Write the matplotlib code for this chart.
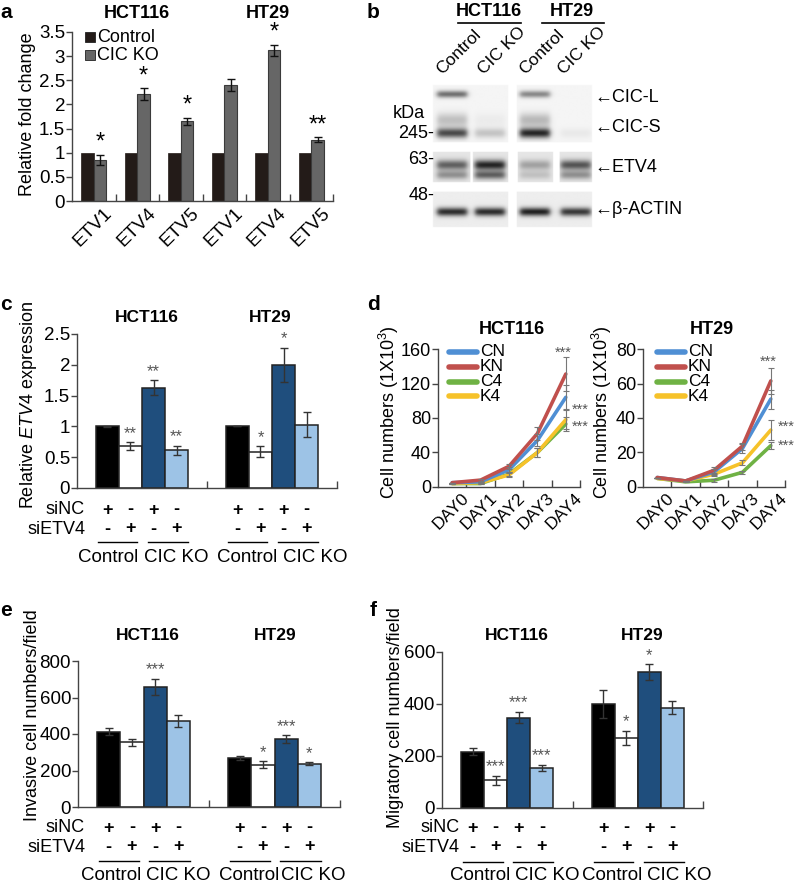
import numpy as np
import matplotlib
matplotlib.use('Agg')
import matplotlib.pyplot as plt
from matplotlib import transforms
from matplotlib.lines import Line2D
from matplotlib.patches import Rectangle

plt.rcParams['font.family'] = ['Liberation Sans', 'DejaVu Sans']
plt.rcParams['font.size'] = 13
plt.rcParams['mathtext.fontset'] = 'custom'
plt.rcParams['mathtext.rm'] = 'Liberation Sans'
plt.rcParams['mathtext.it'] = 'Liberation Sans:italic'

# ------------------------------------------------------------------ data
# panel a
a_genes = ['ETV1', 'ETV4', 'ETV5', 'ETV1', 'ETV4', 'ETV5']
a_cells = ['HCT116', 'HT29']
a_series = ['Control', 'CIC KO']
a_control = [1, 1, 1, 1, 1, 1]
a_ko = [0.85, 2.22, 1.65, 2.40, 3.12, 1.27]
a_ko_err = [0.11, 0.12, 0.07, 0.12, 0.12, 0.05]
a_stars = ['*', '*', '*', '', '*', '**']

# panel b (western blot band intensities per lane)
b_lanes = ['Control', 'CIC KO', 'Control', 'CIC KO']
b_cells = ['HCT116', 'HT29']
b_bands = ['CIC-L', 'CIC smear', 'CIC-S', 'ETV4', 'ETV4 low', 'β-ACTIN']
b_intensity = [[0.55, 0.00, 0.45, 0.00],
               [0.22, 0.04, 0.25, 0.00],
               [0.70, 0.20, 0.85, 0.05],
               [0.55, 0.80, 0.28, 0.60],
               [0.35, 0.55, 0.15, 0.35],
               [0.80, 0.80, 0.85, 0.75]]
b_markers = ['245', '63', '48']
b_labels = ['←CIC-L', '←CIC-S', '←ETV4', '←β-ACTIN']

# panel c
c_groups = ['HCT116', 'HT29']
c_vals = [[1.00, 0.68, 1.63, 0.61], [1.00, 0.59, 2.00, 1.03]]
c_errs = [[0.01, 0.065, 0.12, 0.075], [0.0, 0.085, 0.28, 0.21]]
c_stars = [['', '**', '**', '**'], ['', '*', '*', '']]

# panel d
d_days = ['DAY0', 'DAY1', 'DAY2', 'DAY3', 'DAY4']
d_series = ['CN', 'KN', 'C4', 'K4']
d_hct = {'CN': [5, 6, 20, 54, 104], 'KN': [5, 8, 24, 62, 131],
         'C4': [4, 4, 15, 40, 73], 'K4': [4, 5, 14, 40, 78]}
d_hct_err = {'CN': [0, 0, 3, 7, 14], 'KN': [0, 1, 3, 7, 20],
             'C4': [0, 0, 2, 5, 8], 'K4': [0, 0, 2, 5, 11]}
d_ht = {'CN': [5.5, 3.5, 8.7, 22.3, 51], 'KN': [5.5, 3.5, 9.7, 23.7, 61.5],
        'C4': [5, 3, 3.9, 8.5, 24], 'K4': [5, 3.5, 7.4, 14, 33]}
d_ht_err = {'CN': [0, 0, 2, 2.5, 5.5], 'KN': [0, 0, 2, 2, 7.5],
            'C4': [0, 0, 1, 1, 2], 'K4': [0, 0, 1, 1.5, 6]}

# panel e
e_vals = [[412, 355, 658, 470], [270, 232, 372, 238]]
e_errs = [[20, 20, 45, 32], [10, 18, 20, 8]]
e_stars = [['', '', '***', ''], ['', '*', '***', '*']]

# panel f
f_vals = [[217, 107, 348, 155], [400, 270, 522, 385]]
f_errs = [[13, 18, 22, 12], [52, 28, 30, 25]]
f_stars = [['', '***', '***', '***'], ['', '*', '*', '']]

si_nc = ['+', '-', '+', '-']
si_etv4 = ['-', '+', '-', '+']
group_labels = ['Control', 'CIC KO', 'Control', 'CIC KO']

# ------------------------------------------------------------------ styles
W, H = 797, 885
SP = '#444444'
FT = 13.5      # tick label size
FL = 13        # axis label size
FB = 12.5      # bold title size
bar_colors = ['#000000', '#ffffff', '#1f4e7d', '#9dc3e6']
line_colors = {'CN': '#4f8fd4', 'KN': '#c0504d', 'C4': '#6fb244', 'K4': '#f6c22a'}

fig = plt.figure(figsize=(W / 100, H / 100), dpi=100)


def px_axes(l, t, r, b):
    return fig.add_axes([l / W, 1 - b / H, (r - l) / W, (b - t) / H])


def ftext(x, y, s, **kw):
    kw.setdefault('ha', 'center')
    kw.setdefault('va', 'center')
    return fig.text(x / W, 1 - y / H, s, **kw)


def fline(x0, x1, y, **kw):
    fig.add_artist(Line2D([x0 / W, x1 / W], [1 - y / H, 1 - y / H],
                          transform=fig.transFigure, **kw))


def style_axes(ax, ylim, yticks, ylabels, bounds, fs=FT):
    ax.set_ylim(*ylim)
    ax.set_yticks(yticks)
    ax.set_yticklabels(ylabels)
    for s in ['top', 'right']:
        ax.spines[s].set_visible(False)
    for s in ['left', 'bottom']:
        ax.spines[s].set_color(SP)
        ax.spines[s].set_linewidth(1)
    ax.tick_params(axis='y', direction='out', length=4, width=1, color=SP,
                   labelsize=fs, pad=1)
    ax.set_xticks(bounds, minor=True)
    ax.tick_params(axis='x', which='major', length=0)
    ax.tick_params(axis='x', which='minor', direction='in', length=5,
                   width=1, color=SP)
    ax.patch.set_alpha(0)


def rot_labels(ax, labels, dx, dy, fs):
    off = transforms.ScaledTranslation(dx / 100, dy / 100, fig.dpi_scale_trans)
    tr = transforms.blended_transform_factory(ax.transData, ax.transAxes) + off
    for i, lab in enumerate(labels):
        ax.text(i, 0, lab, transform=tr, rotation=45, rotation_mode='anchor',
                ha='right', va='center', fontsize=fs)


# ------------------------------------------------------------------ panel a
ax = px_axes(72, 32, 333, 201)
n = len(a_genes)
x = np.arange(n)
bw = 0.29
ax.bar(x - bw / 2, a_control, bw, color='#231b18', edgecolor='#231b18', lw=0.5)
ax.bar(x + bw / 2, a_ko, bw, color='#666666', edgecolor='#3a3a3a', lw=0.8)
ax.errorbar(x + bw / 2, a_ko, yerr=a_ko_err, fmt='none', ecolor='#111111',
            elinewidth=1, capsize=3, capthick=1)
for i in range(n):
    if a_stars[i]:
        ax.text(x[i] + bw / 2, a_ko[i] + a_ko_err[i] + 0.02, a_stars[i],
                ha='center', va='bottom', fontsize=17)
ax.set_xlim(-0.5, n - 0.5)
style_axes(ax, (0, 3.5), np.arange(0, 3.51, 0.5),
           ['0', '0.5', '1', '1.5', '2', '2.5', '3', '3.5'],
           np.arange(0.5, n, 1.0))
ax.set_xticks(x)
ax.set_xticklabels([])
rot_labels(ax, a_genes, 16, -10, 13.5)
ftext(28, 114, 'Relative fold change', rotation=90, fontsize=FL)
ftext(137, 13, a_cells[0], fontweight='bold', fontsize=FB + 0.5)
ftext(268, 13, a_cells[1], fontweight='bold', fontsize=FB + 0.5)
leg_cols = ['#231b18', '#666666']
for k, name in enumerate(a_series):
    yc = 37 + k * 18
    fig.add_artist(Rectangle((85 / W, 1 - (yc + 5) / H), 10 / W, 10 / H,
                             transform=fig.transFigure, facecolor=leg_cols[k],
                             edgecolor='#222222', lw=0.6))
    ftext(97, yc, name, ha='left', fontsize=13)

# ------------------------------------------------------------------ panel b
axb = px_axes(430, 82, 600, 232)
xs = np.linspace(430, 600, 341)
ys = np.linspace(82, 232, 301)
X, Y = np.meshgrid(xs, ys)
panels = [(433, 508, 85, 142, 0.96), (517, 592, 85, 142, 0.96),
          (433, 470, 152, 182, 0.90), (473, 508, 152, 182, 0.90),
          (518, 553, 152, 182, 0.90), (560, 592, 152, 182, 0.90),
          (433, 508, 192, 227, 0.93), (517, 592, 192, 227, 0.93)]
img = np.ones_like(X)
pmask = np.zeros_like(X)
for (x0, x1, y0, y1, bg) in panels:
    m = (X >= x0) & (X <= x1) & (Y >= y0) & (Y <= y1)
    img[m] = bg
    pmask[m] = 1
lane_x = [452, 490, 535, 576]
band_y = [94, 120, 133, 165, 175, 212]
band_s = [2.5, 5.0, 3.5, 3.5, 3.0, 3.0]
D = np.zeros_like(X)
for bi in range(len(b_bands)):
    for li in range(4):
        prof = 1 / (1 + np.exp((np.abs(X - lane_x[li]) - 15) / 1.5))
        D += b_intensity[bi][li] * np.exp(-(Y - band_y[bi]) ** 2 / (2 * band_s[bi] ** 2)) * prof
img = np.clip(img - 0.95 * D * pmask, 0, 1)
axb.imshow(img, cmap='gray', vmin=0, vmax=1, extent=(430, 600, 232, 82),
           aspect='auto', interpolation='bilinear')
axb.set_xlim(430, 600)
axb.set_ylim(232, 82)
axb.axis('off')
ftext(489, 12, b_cells[0], fontweight='bold', fontsize=FB + 0.5)
ftext(572, 12, b_cells[1], fontweight='bold', fontsize=FB + 0.5)
fline(458, 521, 23, color='black', lw=1.2)
fline(542, 604, 23, color='black', lw=1.2)
for lx, lab in zip([444, 486, 527, 566], b_lanes):
    ftext(lx, 77, lab, rotation=45, rotation_mode='anchor', ha='left',
          va='bottom', fontsize=12.5)
ftext(393, 113, 'kDa', ha='left', fontsize=13)
for lab, yy in zip(b_markers, [134, 160, 195]):
    ftext(434, yy, lab + '-', ha='right', fontsize=13)
for lab, yy in zip(b_labels, [98, 128, 168, 209]):
    ftext(594, yy, lab, ha='left', fontsize=13)


# ------------------------------------------------------------------ bar helper
def bar4(rect, vals, errs, stars, ylim, yticks, ylabels, ylabel, ylab_xy,
         title_xy, si_x, rows_y, lab_x):
    axx = px_axes(*rect)
    w = 0.177
    offs = (np.arange(4) - 1.5) * w
    for gi in range(2):
        xx = gi + offs
        axx.bar(xx, vals[gi], w, color=bar_colors, edgecolor='#222222', lw=1.1)
        axx.errorbar(xx, vals[gi], yerr=errs[gi], fmt='none', ecolor='#333333',
                     elinewidth=1, capsize=3, capthick=1)
        for j in range(4):
            if stars[gi][j]:
                axx.text(xx[j], vals[gi][j] + errs[gi][j] + 0.008 * ylim[1],
                         stars[gi][j], ha='center', va='bottom', fontsize=12,
                         color='#555555')
    axx.set_xlim(-0.5, 1.5)
    style_axes(axx, ylim, yticks, ylabels, [0.5, 1.5])
    axx.set_xticks([0, 1])
    axx.set_xticklabels([])
    ftext(ylab_xy[0], ylab_xy[1], ylabel, rotation=90, fontsize=FL)
    for gi in range(2):
        ftext(title_xy[gi][0], title_xy[gi][1], c_groups[gi],
              fontweight='bold', fontsize=FB)
    tr = transforms.blended_transform_factory(axx.transData, fig.transFigure)
    ftext(si_x, rows_y[0], 'siNC', ha='right', fontsize=13)
    ftext(si_x, rows_y[1], 'siETV4', ha='right', fontsize=13)
    for gi in range(2):
        for j in range(4):
            xx = gi + offs[j]
            axx.text(xx, 1 - rows_y[0] / H, si_nc[j], transform=tr, ha='center',
                     va='center', fontsize=13, fontweight='bold')
            axx.text(xx, 1 - rows_y[1] / H, si_etv4[j], transform=tr,
                     ha='center', va='center', fontsize=13, fontweight='bold')
        segs = [(gi + offs[0] - 0.4 * w, gi + offs[1] + 0.3 * w),
                (gi + offs[2] - 0.25 * w, gi + offs[3] + 0.5 * w)]
        for s0, s1 in segs:
            axx.add_line(Line2D([s0, s1], [1 - rows_y[2] / H] * 2, transform=tr,
                                color='black', lw=1, clip_on=False))
    for lx, lab in zip(lab_x, group_labels):
        ftext(lx, rows_y[3], lab, fontsize=13.5)
    return axx


# ------------------------------------------------------------------ panel c
bar4((77, 334, 337, 488), c_vals, c_errs, c_stars, (0, 2.5),
     np.arange(0, 2.51, 0.5), ['0', '0.5', '1', '1.5', '2', '2.5'],
     'Relative $\\mathit{ETV4}$ expression', (29, 405),
     [(147, 318), (270, 318)], 85, [510, 529, 542, 558],
     [108, 176, 247, 315])

# ------------------------------------------------------------------ panel e
bar4((78, 661, 340, 807), e_vals, e_errs, e_stars, (0, 800),
     np.arange(0, 801, 200), ['0', '200', '400', '600', '800'],
     'Invasive cell numbers/field', (33, 715),
     [(148, 636), (275, 636)], 85, [828, 847, 861, 875],
     [111, 178, 249, 313])

# ------------------------------------------------------------------ panel f
bar4((442, 652, 703, 808), f_vals, f_errs, f_stars, (0, 600),
     np.arange(0, 601, 200), ['0', '200', '400', '600'],
     'Migratory cell numbers/field', (396, 718),
     [(517, 636), (642, 636)], 460, [828, 847, 862, 875],
     [480, 547, 612, 679])


# ------------------------------------------------------------------ panel d
def growth(rect, data, err, ymax, ystep, title, title_xy, ylab_x, leg_x,
           stars):
    axd = px_axes(*rect)
    xx = np.arange(len(d_days))
    for s in d_series:
        axd.errorbar(xx, data[s], yerr=err[s], fmt='none', ecolor='#777777',
                     elinewidth=0.8, capsize=2, capthick=0.8, zorder=3)
    for s in ['C4', 'K4', 'CN', 'KN']:
        axd.plot(xx, data[s], color=line_colors[s], lw=2.6, zorder=2,
                 solid_capstyle='round')
    axd.set_xlim(-0.5, len(d_days) - 0.5)
    yt = np.arange(0, ymax + 0.1, ystep)
    style_axes(axd, (0, ymax), yt, [str(int(v)) for v in yt],
               np.arange(0.5, len(d_days), 1.0), fs=13)
    axd.set_xticks(xx)
    axd.set_xticklabels([])
    rot_labels(axd, d_days, 14, -9, 12.5)
    ftext(title_xy[0], title_xy[1], title, fontweight='bold', fontsize=FB + 0.5)
    ftext(ylab_x, 412, 'Cell numbers (1X10$^3$)', rotation=90, fontsize=FL)
    for k, s in enumerate(d_series):
        yy = 352 + k * 14.8
        fline(leg_x, leg_x + 28, yy, color=line_colors[s], lw=4,
              solid_capstyle='round')
        ftext(leg_x + 31, yy, s, ha='left', fontsize=12.5)
    for (sx, sy) in stars:
        axd.text(sx, sy, '***', ha='center', va='center', fontsize=10.5,
                 color='#555555', clip_on=False)
    return axd


growth((438, 349, 580, 487), d_hct, d_hct_err, 160, 40, 'HCT116',
       (512, 330), 389, 449, [(3.9, 156), (4.5, 90), (4.5, 70)])
growth((643, 349, 785, 487), d_ht, d_ht_err, 80, 20, 'HT29',
       (712, 330), 602, 657, [(3.9, 72.5), (4.55, 35), (4.55, 24)])

# ------------------------------------------------------------------ letters
for lab, (lx, ly) in zip('abcdef', [(6, 12), (373, 12), (6, 305), (373, 305),
                                    (6, 610), (373, 610)]):
    ftext(lx, ly, lab, fontweight='bold', fontsize=15)

fig.savefig('out.png', dpi=100)
